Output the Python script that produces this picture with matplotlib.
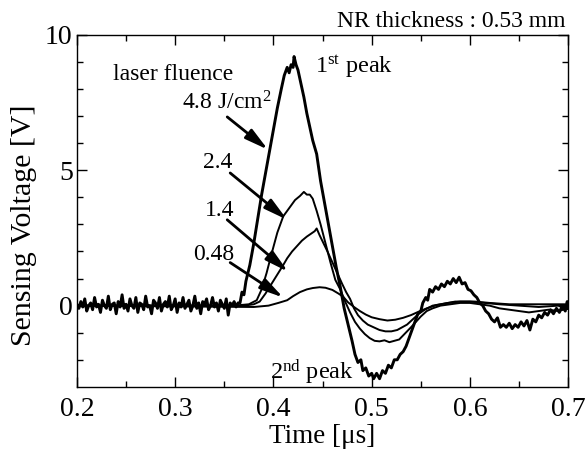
import numpy as np
import matplotlib
matplotlib.use("Agg")
import matplotlib.pyplot as plt

plt.rcParams['font.family'] = ['Liberation Serif', 'DejaVu Serif']
plt.rcParams['mathtext.fontset'] = 'custom'
plt.rcParams['mathtext.rm'] = 'Liberation Serif'
plt.rcParams['mathtext.it'] = 'Liberation Serif:italic'

# 4.8 J/cm2 : noisy baseline, then the main pulse
noise_48 = [0.05, -0.10, 0.15, -0.05, 0.25, -0.20, 0.00, 0.10, -0.15, 0.30,
            -0.05, 0.05, -0.25, 0.20, 0.00, -0.10, 0.35, -0.15, 0.05, 0.10,
            -0.30, 0.15, -0.05, 0.40, -0.10, 0.05, -0.20, 0.25, 0.00, -0.10,
            0.30, -0.25, 0.10, 0.05, -0.15, 0.35, -0.05, 0.00, -0.30, 0.20,
            0.10, -0.10, 0.30, -0.20, 0.05, 0.15, -0.05, 0.35, -0.15, 0.00,
            0.25, -0.25, 0.10, -0.05, 0.30, -0.10, 0.05, 0.20, -0.20, 0.00,
            0.35, -0.10, 0.10, -0.30, 0.15, 0.05, 0.25, -0.15, 0.00, 0.30,
            -0.05, 0.10, -0.20, 0.20, 0.05, -0.10, 0.25, -0.35, 0.10, 0.00,
            0.15, -0.05, 0.10]
t_noise = np.linspace(0.2, 0.364, len(noise_48))

t48 = [0.366, 0.368, 0.370, 0.372, 0.376, 0.380, 0.384, 0.388, 0.392, 0.396,
       0.400, 0.404, 0.408, 0.411, 0.414, 0.416, 0.418, 0.420, 0.421, 0.423,
       0.425, 0.428, 0.431, 0.434, 0.437, 0.440, 0.444, 0.448, 0.452, 0.456,
       0.460, 0.464, 0.468, 0.472, 0.476, 0.480, 0.483, 0.486, 0.489, 0.491,
       0.494, 0.497, 0.500, 0.502, 0.505, 0.508, 0.511, 0.514, 0.517, 0.520,
       0.523, 0.526, 0.529, 0.532, 0.535, 0.538, 0.541, 0.544, 0.547, 0.550,
       0.552, 0.555, 0.557, 0.559, 0.562, 0.565, 0.568, 0.571, 0.574, 0.577,
       0.580, 0.583, 0.586, 0.589, 0.592, 0.595, 0.598, 0.601, 0.604, 0.607,
       0.610, 0.613, 0.616, 0.619, 0.622, 0.625, 0.628, 0.631, 0.634, 0.637,
       0.640, 0.643, 0.646, 0.649, 0.652, 0.655, 0.658, 0.661, 0.664, 0.667,
       0.670, 0.673, 0.676, 0.679, 0.682, 0.685, 0.688, 0.691, 0.694, 0.697,
       0.699, 0.700]
v48 = [0.1, 0.5, 0.4, 0.9, 1.5, 2.3, 3.2, 4.1, 4.9, 5.7,
       6.5, 7.3, 8.0, 8.5, 8.8, 8.6, 8.9, 8.8, 9.2, 8.9,
       8.7, 8.2, 7.7, 7.1, 6.6, 6.1, 5.6, 4.6, 3.8, 3.0,
       2.2, 1.4, 0.7, -0.1, -0.7, -1.3, -1.8, -2.1, -2.0, -2.4,
       -2.3, -2.6, -2.5, -2.7, -2.5, -2.7, -2.4, -2.5, -2.2, -2.3,
       -2.0, -2.0, -1.8, -1.7, -1.5, -1.2, -0.9, -0.6, -0.3, -0.2,
       0.1, 0.3, 0.2, 0.6, 0.5, 0.7, 0.6, 0.8, 0.7, 0.9,
       0.8, 1.0, 0.85, 1.05, 0.8, 0.85, 0.6, 0.55, 0.4, 0.3,
       0.1, 0.0, -0.2, -0.3, -0.5, -0.6, -0.45, -0.8, -0.7, -0.8,
       -0.65, -0.85, -0.7, -0.8, -0.6, -0.75, -0.55, -0.9, -0.5, -0.6,
       -0.35, -0.45, -0.25, -0.35, -0.15, -0.3, -0.1, -0.25, 0.0, -0.2,
       0.15, -0.1]

t24 = [0.200, 0.300, 0.360, 0.375, 0.383, 0.388, 0.393, 0.398, 0.404, 0.410,
       0.417, 0.422, 0.427, 0.431, 0.434, 0.437, 0.440, 0.444, 0.448, 0.453,
       0.458, 0.463, 0.468, 0.473, 0.478, 0.483, 0.488, 0.493, 0.498, 0.503,
       0.508, 0.513, 0.518, 0.523, 0.528, 0.532, 0.536, 0.540, 0.545, 0.550,
       0.556, 0.562, 0.570, 0.580, 0.590, 0.600, 0.610, 0.620, 0.630, 0.640,
       0.650, 0.660, 0.670, 0.680, 0.690, 0.700]
v24 = [0.0, 0.0, 0.0, 0.05, 0.2, 0.6, 1.2, 1.9, 2.7, 3.3,
       3.65, 3.9, 4.05, 4.2, 4.1, 4.1, 3.95, 3.5, 3.0, 2.3,
       1.6, 0.95, 0.6, 0.15, -0.25, -0.6, -0.85, -1.05, -1.2, -1.3,
       -1.32, -1.28, -1.35, -1.3, -1.25, -1.1, -0.95, -0.8, -0.6, -0.4,
       -0.2, -0.1, 0.0, 0.05, 0.1, 0.1, 0.05, 0.0, -0.1, -0.15,
       -0.2, -0.25, -0.2, -0.15, -0.2, -0.1]

t14 = [0.200, 0.370, 0.380, 0.386, 0.392, 0.398, 0.404, 0.410, 0.414, 0.419,
       0.424, 0.429, 0.434, 0.438, 0.442, 0.444, 0.447, 0.451, 0.455, 0.460,
       0.465, 0.470, 0.474, 0.478, 0.482, 0.486, 0.491, 0.496, 0.502, 0.508,
       0.514, 0.520, 0.526, 0.531, 0.536, 0.542, 0.548, 0.554, 0.562, 0.570,
       0.585, 0.600, 0.615, 0.630, 0.650, 0.670, 0.690, 0.700]
v14 = [0.0, 0.0, 0.05, 0.15, 0.45, 0.8, 1.15, 1.5, 1.75, 2.0,
       2.2, 2.4, 2.55, 2.65, 2.75, 2.85, 2.6, 2.3, 2.0, 1.6,
       1.2, 0.8, 0.5, 0.25, -0.1, -0.35, -0.55, -0.7, -0.8, -0.9,
       -0.95, -0.95, -0.9, -0.8, -0.7, -0.5, -0.3, -0.15, 0.0, 0.05,
       0.15, 0.15, 0.1, 0.05, 0.0, -0.05, 0.0, 0.0]

t048 = [0.200, 0.380, 0.395, 0.405, 0.414, 0.420, 0.427, 0.434, 0.440, 0.447,
        0.453, 0.460, 0.466, 0.471, 0.476, 0.482, 0.488, 0.494, 0.500, 0.508,
        0.516, 0.524, 0.532, 0.540, 0.548, 0.556, 0.566, 0.578, 0.590, 0.605,
        0.620, 0.640, 0.660, 0.680, 0.700]
v048 = [0.0, -0.05, 0.0, 0.1, 0.2, 0.35, 0.5, 0.6, 0.65, 0.68,
        0.66, 0.58, 0.45, 0.33, 0.12, -0.05, -0.2, -0.33, -0.43, -0.5,
        -0.55, -0.52, -0.45, -0.35, -0.22, -0.1, 0.02, 0.1, 0.15, 0.15,
        0.1, 0.05, 0.05, 0.05, 0.05]

# labels and arrows (text position, arrow tail, arrow head)
fluence_labels = ['4.8 J/cm$^2$', '2.4', '1.4', '0.48']
label_pos = [(0.307, 7.23), (0.328, 5.1), (0.330, 3.3), (0.318, 1.7)]
arrow_tail = [(0.353, 6.97), (0.356, 4.9), (0.353, 3.17), (0.356, 1.59)]
arrow_head = [(0.3945, 5.76), (0.414, 3.17), (0.415, 1.25), (0.410, 0.3)]

fig = plt.figure(figsize=(5.87, 4.53), dpi=100)
ax = fig.add_axes([0.131, 0.146, 0.837, 0.777])

ax.plot(t24, v24, color='k', lw=1.4)
ax.plot(t14, v14, color='k', lw=1.4)
ax.plot(t048, v048, color='k', lw=1.4)
ax.plot(list(t_noise) + t48, noise_48 + v48, color='k', lw=2.1)

for lab, pos, tail, head in zip(fluence_labels, label_pos, arrow_tail, arrow_head):
    ax.text(pos[0], pos[1], lab, fontsize=17, ha='left', va='baseline')
    ax.annotate('', xy=head, xytext=tail,
                arrowprops=dict(arrowstyle='-|>,head_length=1.0,head_width=0.25',
                                color='k', lw=2.0, shrinkA=0, shrinkB=0,
                                mutation_scale=14))

ax.text(0.237, 8.35, 'laser fluence', fontsize=17, ha='left', va='baseline')
ax.text(0.4424, 8.6, '1$^{\\rm st}$ peak', fontsize=17.5, ha='left', va='baseline')
ax.text(0.3966, -2.73, '2$^{\\rm nd}$ peak', fontsize=17.5, ha='left', va='baseline')
ax.text(0.995, 1.008, 'NR thickness : 0.53 mm', fontsize=17, ha='right',
        va='bottom', transform=ax.transAxes)

ax.set_xlim(0.2, 0.7)
ax.set_ylim(-3, 10)
ax.set_xticks([0.2, 0.3, 0.4, 0.5, 0.6, 0.7])
ax.set_xticklabels(['0.2', '0.3', '0.4', '0.5', '0.6', '0.7'])
ax.set_xticks(np.arange(0.25, 0.7, 0.1), minor=True)
ax.set_yticks([0, 5, 10])
ax.set_yticks([-2, -1, 1, 2, 3, 4, 6, 7, 8, 9], minor=True)
ax.tick_params(which='both', direction='in', top=True, right=True, labelsize=20,
               width=1.0)
ax.tick_params(which='major', length=7)
ax.tick_params(which='minor', length=4)
ax.tick_params(axis='x', pad=7)
ax.tick_params(axis='y', pad=3)
for s in ax.spines.values():
    s.set_linewidth(1.0)

ax.set_xlabel('Time [\u03bcs]', fontsize=19.5, labelpad=2)
ax.set_ylabel('Sensing Voltage [V]', fontsize=21.5, labelpad=4)
ax.yaxis.set_label_coords(-0.082, 0.46)

fig.savefig('out.png', dpi=100)
